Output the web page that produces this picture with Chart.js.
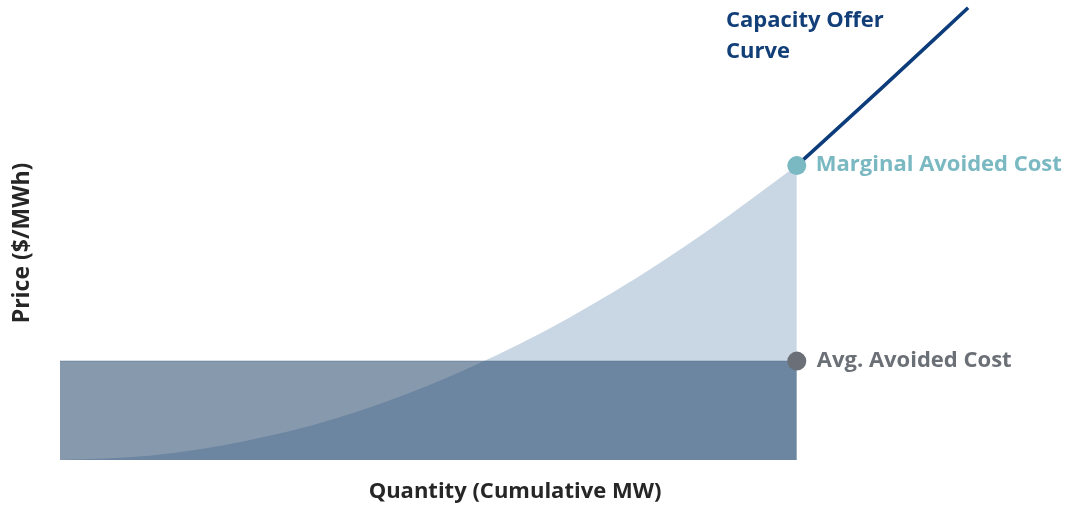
<!DOCTYPE html>
<html>
<head>
<meta charset="utf-8">
<script src="https://cdn.jsdelivr.net/npm/chart.js@4.4.1/dist/chart.umd.min.js"></script>
<style>
  html, body { margin: 0; padding: 0; background: #fff; }
  #wrap { width: 1070px; height: 508px; }
</style>
</head>
<body>
<div id="wrap"><canvas id="offer-chart"></canvas></div>
<script>
// quantity (share of cumulative MW) and price along the avoided cost curve
const curveQty = [0, 10, 20, 30, 40, 50, 60, 70, 80]
const curvePrice = [0, 1.0, 4.1, 9.1, 16.2, 25.3, 36.4, 49.4, 64]

// capacity offer curve above the marginal point
const offerQty = [80, 89.3, 98.6]
const offerPrice = [64, 81, 98.3]

const avgCost = 21.5
const marginalCost = 64
const endQty = 80

const toPoints = (xs, ys) => xs.map((x, i) => ({ x: x, y: ys[i] }))

const fontFamily = "'Open Sans', Lato, sans-serif"

// axis titles and callouts, placed off the scales
const labelPlugin = {
	id: 'labels',
	afterDraw: (chart) => {
		const ctx = chart.ctx
		const xs = chart.scales.x
		const ys = chart.scales.y
		ctx.save()
		ctx.font = 'bold 22px ' + fontFamily
		ctx.textBaseline = 'middle'
		ctx.textAlign = 'left'

		ctx.fillStyle = '#7ab8c2'
		ctx.fillText('Marginal Avoided Cost', xs.getPixelForValue(endQty) + 19, ys.getPixelForValue(marginalCost) - 1)

		ctx.fillStyle = '#6b6f76'
		ctx.fillText('Avg. Avoided Cost', xs.getPixelForValue(endQty) + 20, ys.getPixelForValue(avgCost))

		ctx.fillStyle = '#123f78'
		ctx.fillText('Capacity Offer', 726, 21)
		ctx.fillText('Curve', 726, 52)

		ctx.fillStyle = '#262626'
		ctx.textAlign = 'center'
		ctx.fillText('Quantity (Cumulative MW)', 515, 492)

		ctx.font = 'bold 23px ' + fontFamily
		ctx.translate(22, 243)
		ctx.rotate(-Math.PI / 2)
		ctx.fillText('Price ($/MWh)', 0, 0)
		ctx.restore()
	}
}

const config = {
	type: 'line',
	data: {
		datasets: [
			{
				label: 'Avg. Avoided Cost',
				data: [{ x: 0, y: avgCost }, { x: endQty, y: avgCost }],
				fill: 'origin',
				backgroundColor: 'rgba(15, 51, 92, 0.5)',
				borderColor: 'rgba(95, 120, 150, 0.6)',
				borderWidth: 1,
				pointRadius: 0,
				order: 3
			},
			{
				label: 'Avoided Cost Curve',
				data: toPoints(curveQty, curvePrice),
				fill: 'origin',
				backgroundColor: '#c9d7e4',
				borderWidth: 0,
				pointRadius: 0,
				cubicInterpolationMode: 'monotone',
				order: 4
			},
			{
				label: 'Capacity Offer Curve',
				data: toPoints(offerQty, offerPrice),
				borderColor: '#0d3c7b',
				borderWidth: 3.5,
				pointRadius: 0,
				fill: false,
				cubicInterpolationMode: 'monotone',
				order: 2
			},
			{
				label: 'Marginal Avoided Cost',
				data: [{ x: endQty, y: marginalCost }],
				showLine: false,
				pointRadius: 9.5,
				pointBackgroundColor: '#7ab8c2',
				pointBorderWidth: 0,
				order: 1
			},
			{
				label: 'Avg. Avoided Cost point',
				data: [{ x: endQty, y: avgCost }],
				showLine: false,
				pointRadius: 9.5,
				pointBackgroundColor: '#6b7078',
				pointBorderWidth: 0,
				order: 1
			}
		]
	},
	options: {
		responsive: true,
		maintainAspectRatio: false,
		animation: false,
		clip: false,
		layout: { autoPadding: false, padding: { left: 60, right: 89, top: 0, bottom: 48 } },
		scales: {
			x: { type: 'linear', min: 0, max: 100, display: false },
			y: { type: 'linear', min: 0, max: 100, display: false }
		},
		plugins: {
			legend: { display: false },
			tooltip: { enabled: false }
		}
	},
	plugins: [labelPlugin]
}

const ctx = document.querySelector('#offer-chart').getContext('2d')
const offerChart = new Chart(ctx, config)
</script>
</body>
</html>
